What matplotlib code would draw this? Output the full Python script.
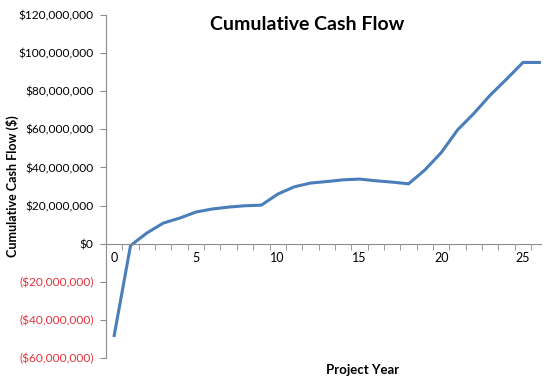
import numpy as np
import matplotlib.pyplot as plt
from matplotlib.ticker import FuncFormatter

plt.rcParams['font.family'] = ['Lato', 'DejaVu Sans']

years = list(range(27))
cash_m = [-48.2, -1.0, 5.6, 10.8, 13.4, 16.6, 18.2, 19.2, 19.9, 20.2,
          26.0, 29.8, 31.8, 32.6, 33.5, 33.9, 33.0, 32.3, 31.4, 38.7,
          47.8, 59.7, 68.4, 78.0, 86.4, 95.1, 95.1]
cash = np.array(cash_m) * 1e6

fig = plt.figure(figsize=(5.5, 3.84), dpi=100)
ax = fig.add_axes([106/550, 1-358/384, 435/550, 343/384])

ax.plot(years, cash, color='#4a7ebb', lw=2.2, solid_joinstyle='round')

ax.set_xlim(-0.5, 26.1)
ax.set_ylim(-60e6, 120e6)
ax.set_yticks(np.arange(-60e6, 120e6 + 1, 20e6))


def money(v, pos):
    if v < 0:
        return "(${:,.0f})".format(-v)
    return "${:,.0f}".format(v)


ax.yaxis.set_major_formatter(FuncFormatter(money))
ax.set_xticks([0, 5, 10, 15, 20, 25])
ax.set_xticks(np.arange(0.5, 26, 1), minor=True)

for s in ['top', 'right']:
    ax.spines[s].set_visible(False)
ax.spines['bottom'].set_position(('data', 0))
ax.spines['bottom'].set_color('#8c8c8c')
ax.spines['left'].set_color('#8c8c8c')

ax.tick_params(axis='y', length=4, color='#8c8c8c', labelsize=8.6, pad=5)
ax.tick_params(axis='x', which='major', length=0, labelsize=9, pad=6)
ax.tick_params(axis='x', which='minor', length=4, color='#8c8c8c')

for lab, v in zip(ax.get_yticklabels(), ax.get_yticks()):
    if v < 0:
        lab.set_color('#e2313b')

fig.text(0.558, 0.935, "Cumulative Cash Flow", ha='center', va='center',
         fontsize=14, fontweight='bold')
fig.text(0.022, 0.516, "Cumulative Cash Flow ($)", ha='center', va='center',
         rotation=90, fontsize=9, fontweight='bold')
fig.text(0.66, 0.036, "Project Year", ha='center', va='center',
         fontsize=9.5, fontweight='bold')

fig.savefig('out.png', dpi=100)
